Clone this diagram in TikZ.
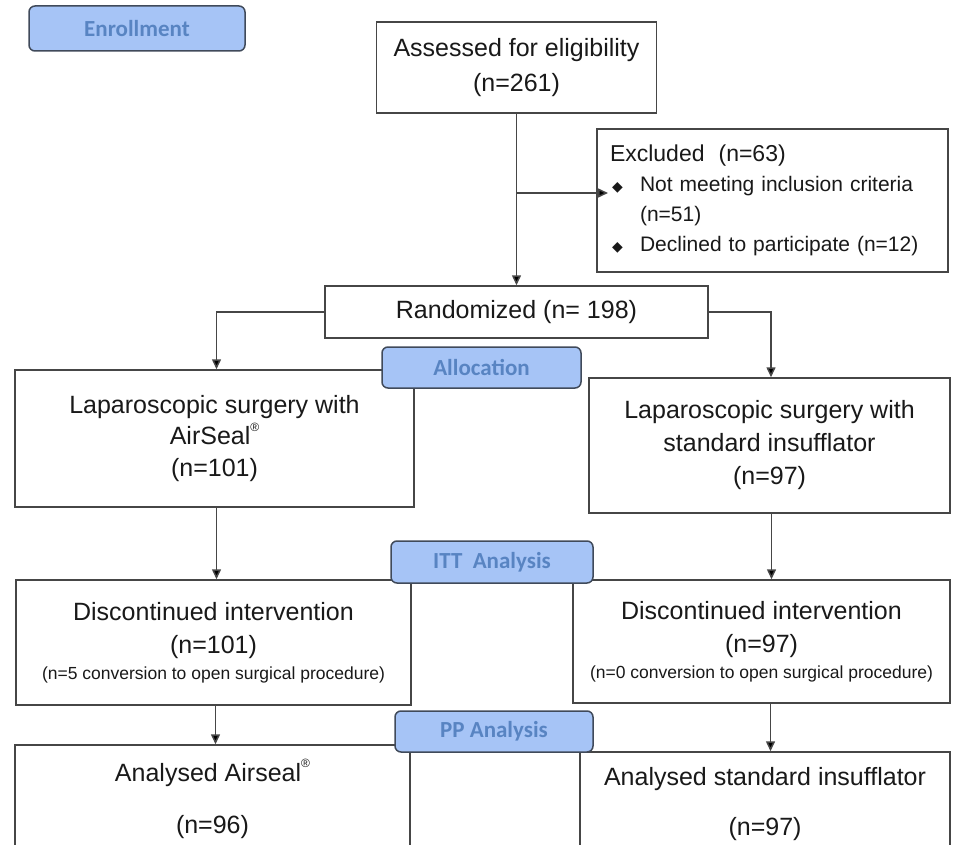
\documentclass[tikz,border=0pt]{standalone}
\usepackage{fontspec}
\setmainfont{Liberation Sans}
\newfontfamily\tagfont{Carlito}
\newfontfamily\symfont{DejaVu Sans}
\usepackage{tikz}
\usetikzlibrary{positioning, arrows.meta}
\usepackage{xcolor}
\definecolor{linecolor}{RGB}{70,70,70}
\definecolor{tagfill}{RGB}{166,196,246}
\definecolor{tagborder}{RGB}{64,74,90}
\definecolor{tagtext}{RGB}{88,132,194}
\definecolor{boxtext}{RGB}{25,25,25}
\newcommand{\regmark}{\raisebox{0.55em}{\fontsize{12}{12}\selectfont ®}}
\newcommand{\bul}{\makebox[30pt][l]{\hspace{2pt}{\symfont\fontsize{14}{14}\selectfont ◆}}}

\begin{document}
\begin{tikzpicture}[x=1pt, y=-1pt]
  \tikzset{
    box/.style={
      draw=linecolor,
      line width=1.5pt,
      fill=white,
      inner sep=0pt,
      align=center,
      text=boxtext,
      font=\fontsize{25}{33}\selectfont
    },
    tag/.style={
      draw=tagborder,
      line width=1.5pt,
      fill=tagfill,
      rounded corners=6pt,
      inner sep=0pt,
      text=tagtext,
      font=\tagfont\bfseries\fontsize{23}{26}\selectfont
    },
    arr/.style={
      draw=linecolor,
      line width=1.5pt,
      -{Triangle[length=10pt,width=9pt,fill=black]}
    }
  }
  \useasboundingbox (0,0) rectangle (963,845);

  % Enrollment
  \node[box, minimum width=280, minimum height=91, font=\fontsize{25}{35}\selectfont]
    at (516.5, 67.5) (assessed) {Assessed for eligibility\\(n=261)};
  \node[box, minimum width=351, minimum height=143, text width=325, align=left,
    font=\fontsize{21}{30}\selectfont] at (772.5, 200.5) (excluded) {
      {\fontsize{23}{30}\selectfont Excluded\ \ (n=63)}\\
      \bul Not meeting inclusion criteria\\
      \hspace*{30pt}(n=51)\\
      \bul Declined to participate (n=12)
  };
  \coordinate (bullet) at (608, 193);
  \node[box, minimum width=383, minimum height=52] at (516.5, 312) (random) {Randomized (n= 198)};

  % Allocation
  \node[box, minimum width=399, minimum height=137, font=\fontsize{25}{31.5}\selectfont]
    at (214.5, 438.5) (lapA) {Laparoscopic surgery with\\AirSeal\regmark\\(n=101)};
  \node[box, minimum width=361, minimum height=135]
    at (769.5, 445.5) (lapB) {Laparoscopic surgery with\\standard insufflator\\(n=97)};

  % ITT analysis
  \node[box, minimum width=395, minimum height=125]
    at (213.5, 642.5) (discA) {Discontinued intervention\\(n=101)\\[-7pt]
      {\fontsize{17.5}{20}\selectfont (n=5 conversion to open surgical procedure)}};
  \node[box, minimum width=377, minimum height=123]
    at (761.5, 641.5) (discB) {Discontinued intervention\\(n=97)\\[-7pt]
      {\fontsize{17.5}{20}\selectfont (n=0 conversion to open surgical procedure)}};

  % PP analysis
  \node[box, minimum width=395, minimum height=108, font=\fontsize{25}{52}\selectfont]
    at (212.5, 799) (anA) {Analysed Airseal\regmark\\(n=96)};
  \node[box, minimum width=370, minimum height=104, font=\fontsize{25}{50}\selectfont]
    at (765, 804) (anB) {Analysed standard insufflator\\(n=97)};

  % Connectors
  \draw[arr] (assessed.south) -- (random.north);
  \draw[arr] (assessed.south |- bullet) -- (bullet);
  \draw[arr] (random.west) -| ([xshift=2pt]lapA.north);
  \draw[arr] (random.east) -| ([xshift=1.5pt]lapB.north);
  \draw[arr] ([xshift=2pt]lapA.south) -- ([xshift=2pt]lapA.south |- discA.north);
  \draw[arr] ([xshift=2pt]lapB.south) -- ([xshift=2pt]lapB.south |- discB.north);
  \draw[arr] ([xshift=2pt]discA.south) -- ([xshift=2pt]discA.south |- anA.north);
  \draw[arr] ([xshift=9pt]discB.south) -- ([xshift=9pt]discB.south |- anB.north);

  % Stage tags
  \node[tag, minimum width=216, minimum height=45] at (137, 28.5) (enroll) {Enrollment};
  \node[tag, minimum width=199, minimum height=41] at (481.5, 367.5) (alloc) {Allocation};
  \node[tag, minimum width=202, minimum height=42] at (492, 562) (itt) {ITT\ \ Analysis};
  \node[tag, minimum width=198, minimum height=41] at (494, 731.5) (pp) {PP Analysis};
\end{tikzpicture}
\end{document}
